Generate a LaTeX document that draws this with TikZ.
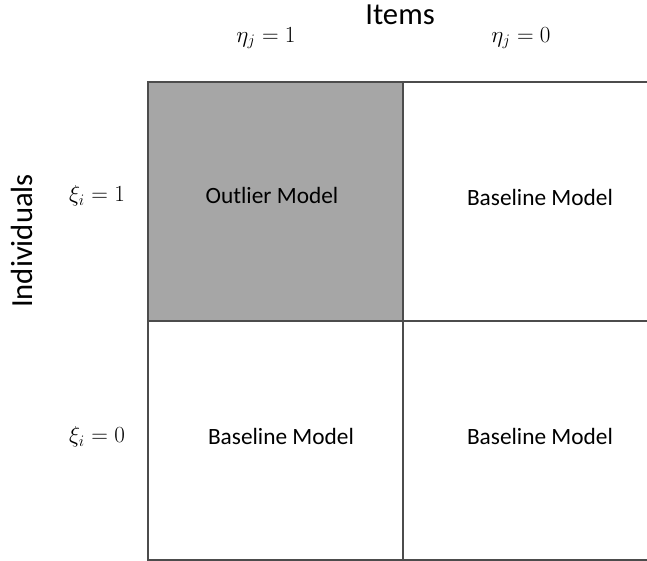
\documentclass[tikz,border=0pt]{standalone}
\usepackage{fontspec}
\setmainfont{Carlito}
\usepackage{amsmath}
\usepackage{tikz}

\begin{document}
\begin{tikzpicture}[x=0.75pt,y=-0.75pt,
    grid line/.style={draw=black!70,line width=1.1pt},
    cell label/.style={font=\fontsize{17.5}{21}\selectfont},
    axis label/.style={font=\fontsize{23}{28}\selectfont},
    level label/.style={font=\fontsize{17.5}{20}\selectfont}]
  \useasboundingbox (0,0) rectangle (647,561);
  \clip (0,0) rectangle (647,561);
  % cells
  \fill[black!35] (148,82) rectangle (403,321);
  \draw[grid line] (148,82) rectangle (658,560);
  \draw[grid line] (403,82) -- (403,560);
  \draw[grid line] (148,321) -- (658,321);
  % labels
  \node[axis label] (items) at (400,15) {Items};
  \node[axis label,rotate=90] (indiv) at (22,241) {Individuals};
  \node[level label] (eta1) at (266,38) {$\eta_j = 1$};
  \node[level label] (eta0) at (521,38) {$\eta_j = 0$};
  \node[level label] (xi1) at (97,196) {$\xi_i = 1$};
  \node[level label] (xi0) at (97,437) {$\xi_i = 0$};
  \node[cell label] (outlier) at (272,195) {Outlier Model};
  \node[cell label] (base1) at (540,197) {Baseline Model};
  \node[cell label] (base2) at (281,436) {Baseline Model};
  \node[cell label] (base3) at (540,436) {Baseline Model};
\end{tikzpicture}
\end{document}
